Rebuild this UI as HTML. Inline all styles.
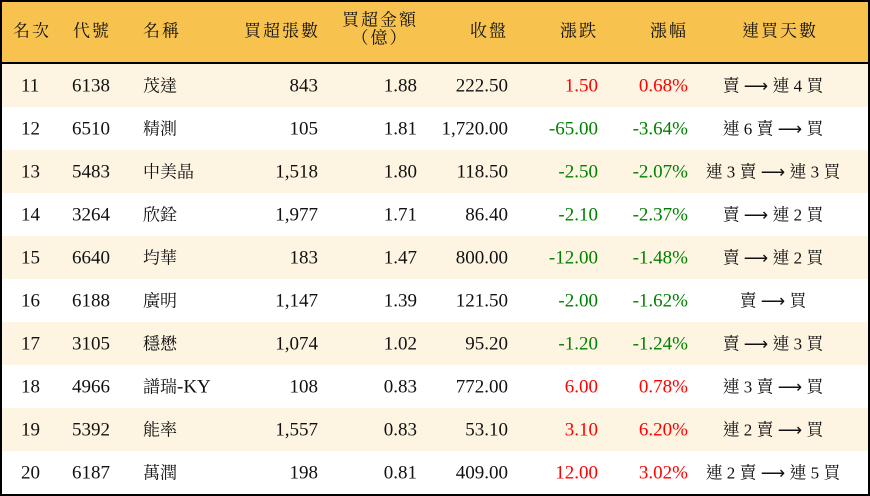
<!DOCTYPE html>
<html><head><meta charset="utf-8"><style>
*{margin:0;padding:0;box-sizing:border-box}
body{width:870px;height:496px;background:#fff;position:relative;overflow:hidden;font-family:"Liberation Serif","Noto Serif CJK TC","Noto Serif CJK SC",serif;font-size:19px;color:#111}
#frame{position:absolute;left:0;top:0;width:870px;height:496px;border:2px solid #000}
.hdr{position:absolute;left:0;top:0;width:870px;height:64px;background:#f8c24e;border-bottom:2.5px solid #000}
.row{position:absolute;left:0;width:870px;height:43px}
.c{position:absolute;top:50%;transform:translateY(-50%);white-space:nowrap;line-height:1}
.red{color:#f00}.grn{color:#008000}
.h{font-size:17px;letter-spacing:2px}
.cj{font-size:17px}
</style></head><body>
<div class="hdr">
<div class="c h" style="left:13px">名次</div>
<div class="c h" style="left:73px">代號</div>
<div class="c h" style="left:143px">名稱</div>
<div class="c h" style="right:550px">買超張數</div>
<div class="c h" style="right:452px;text-align:center;line-height:1.1;top:48%">買超金額<br>（億）</div>
<div class="c h" style="right:362px">收盤</div>
<div class="c h" style="right:272px">漲跌</div>
<div class="c h" style="right:182px">漲幅</div>
<div class="c h" style="left:742px">連買天數</div>
</div>
<div id="rows"></div>
<script>
const d=[["11","6138","茂達","843","1.88","222.50","1.50","0.68%","賣 ⟶ 連 4 買"],
["12","6510","精測","105","1.81","1,720.00","-65.00","-3.64%","連 6 賣 ⟶ 買"],
["13","5483","中美晶","1,518","1.80","118.50","-2.50","-2.07%","連 3 賣 ⟶ 連 3 買"],
["14","3264","欣銓","1,977","1.71","86.40","-2.10","-2.37%","賣 ⟶ 連 2 買"],
["15","6640","均華","183","1.47","800.00","-12.00","-1.48%","賣 ⟶ 連 2 買"],
["16","6188","廣明","1,147","1.39","121.50","-2.00","-1.62%","賣 ⟶ 買"],
["17","3105","穩懋","1,074","1.02","95.20","-1.20","-1.24%","賣 ⟶ 連 3 買"],
["18","4966","譜瑞-KY","108","0.83","772.00","6.00","0.78%","連 3 賣 ⟶ 買"],
["19","5392","能率","1,557","0.83","53.10","3.10","6.20%","連 2 賣 ⟶ 買"],
["20","6187","萬潤","198","0.81","409.00","12.00","3.02%","連 2 賣 ⟶ 連 5 買"]];
let h="";
d.forEach((r,i)=>{const cl=r[6][0]=="-"?"grn":"red";
h+=`<div class="row" style="top:${64+i*43}px;background:${i%2==0?'#fdf5e2':'#fff'}">
<div class="c" style="left:21px">${r[0]}</div>
<div class="c" style="left:72px">${r[1]}</div>
<div class="c" style="left:143px"><span class="cj">${r[2].replace('-KY','</span>-KY<span>')}</span></div>
<div class="c" style="right:552px">${r[3]}</div>
<div class="c" style="right:453px">${r[4]}</div>
<div class="c" style="right:362px">${r[5]}</div>
<div class="c ${cl}" style="right:272px">${r[6]}</div>
<div class="c ${cl}" style="right:182px">${r[7]}</div>
<div class="c" style="left:773px;transform:translate(-50%,-50%);font-size:17px;letter-spacing:0">${r[8]}</div>
</div>`;});
document.getElementById("rows").innerHTML=h;
</script>
<div id="frame"></div>
</body></html>
